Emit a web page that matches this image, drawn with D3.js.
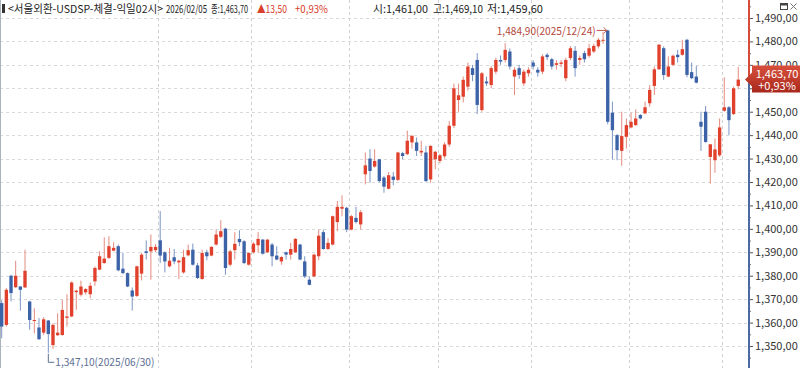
<!DOCTYPE html>
<html><head><meta charset="utf-8">
<script src="https://cdn.jsdelivr.net/npm/d3@7"></script>
<style>
html,body{margin:0;padding:0;background:#fff;}
svg{display:block;}
text{font-family:"Noto Sans CJK KR","Liberation Sans",sans-serif;}
</style></head>
<body><svg id="c" width="800" height="368"></svg>
<script>
// ---- data (daily candles, USD/KRW) ----
const opens=[1368.3,1359,1380,1375.1,1375.4,1375,1369,1360.7,1357.9,1355.7,1360.9,1350.4,1354.6,1354.7,1362,1362.6,1373,1371.9,1372.9,1372.1,1377.6,1382.6,1385.4,1387.6,1390.7,1392.6,1383,1381.1,1373.7,1371.4,1380.9,1390.4,1390.4,1390.9,1395.1,1390,1384,1387.9,1385.7,1381.4,1388.7,1391.1,1384.4,
1378.6,1390,1388.6,1393.3,1396.6,1400.1,1384.7,1390.9,1395.7,1394.7,1384.7,1390,1393,1395.4,1390,1393.3,1388.6,1386.1,1390,1389,1390,1393.3,1386.1,1378.3,1379.7,1388.3,1398.6,1391.4,1393.3,1402.9,1408.6,1409,1399.7,1404.7,1401.9,1423.3,1430,1426.6,1429.7,1421.9,1417.1,1422.3,1420.9,
1432.3,1431.9,1436.9,1436.9,1432.6,1432.6,1421.1,1429.7,1429,1431,1436,1444,1455,1456.4,1460.7,1468.6,1472.1,1450.7,1462.9,1461.4,1467.1,1472.1,1472.1,1475.7,1465,1468.6,1462.1,1466.4,1471,1467.9,1467.1,1474.3,1472.4,1470,1470.4,1464.3,1472.9,1476,1472.1,1475,1473.9,1475.7,1477.9,1480.3,
1484.7,1449.6,1440,1433.3,1439.3,1443.3,1444.3,1448.6,1449.3,1453.6,1461,1468.1,1477.1,1465,1470,1474.3,1474.3,1480.7,1466.9,1465,1445.7,1450,1430.7,1429.3,1431.4,1450.4,1451.9,1449,1461];
const highs=[1369.5,1374.7,1380.4,1386.4,1375.6,1391.1,1369.3,1366.1,1361.9,1362.3,1361.1,1359.7,1364,1369.7,1372.1,1377.6,1374,1377.9,1374.7,1377.1,1384,1390.4,1396.4,1396.9,1394.3,1393.3,1389.7,1381.4,1375,1384.3,1389.7,1395.1,1397.6,1393.5,1407.6,1390.4,1391.9,1391.4,1386.8,1391.1,1393.3,1393.7,1385.4,
1391.1,1391.1,1392.6,1399.7,1403.7,1400.4,1391.1,1398.6,1399.4,1395.1,1390,1394.3,1398.6,1395.7,1395.7,1394,1392.6,1388.3,1390.3,1394,1396.1,1393.6,1388.3,1379.7,1389.4,1399.7,1399.7,1396.1,1405.7,1411.9,1414.3,1409.4,1406,1409.4,1408,1432.6,1434,1434,1429.9,1422.6,1424.3,1424.3,1432.9,
1432.9,1441.9,1440,1439,1437.6,1435.4,1435.7,1433.3,1432,1437,1446,1462,1462,1465,1471,1470,1475,1467,1465,1469.5,1473,1474,1479.3,1477,1469,1470,1468,1469,1472,1469,1474.5,1475,1473,1472,1472,1473,1478,1478,1474,1476,1479,1479,1481.5,1484,
1484.9,1454.3,1440.5,1450,1447.1,1449.6,1451,1449,1454.3,1461.4,1469.3,1478.9,1477.9,1473.6,1474.3,1476.4,1480.7,1481.1,1471,1469.6,1450,1452.4,1436.1,1438.6,1447.1,1464.7,1452.4,1460.7,1469.1];
const lows=[1353.3,1358.3,1369,1374.7,1365.1,1374.7,1356.9,1355.4,1352.6,1354.7,1347.1,1348.7,1354.3,1354.4,1358.3,1362.3,1365.4,1371.1,1372,1370.4,1375.7,1382.3,1385.1,1387.1,1390.4,1381.9,1380.7,1375.1,1365.1,1370.9,1378,1386.9,1378.3,1390,1385.4,1381.4,1383.6,1384.9,1378.6,1380.9,1388.3,1384.3,1378.6,
1378.3,1386.6,1388.3,1392.9,1396.1,1380.4,1384,1386.9,1392.6,1385,1384.3,1389.4,1389.9,1389,1389.7,1384,1386.6,1384.7,1386.9,1386.9,1389.7,1386.6,1379,1375.9,1379.4,1386.6,1391.1,1391.1,1392.9,1399,1405.4,1398.6,1399.4,1402.3,1399.7,1419,1419.7,1426.1,1419.7,1415.4,1416.9,1418.6,1420.4,
1429.7,1431.4,1434.3,1431.1,1431.1,1420,1419.7,1425.4,1428,1430,1435,1443,1450,1454,1459,1463,1449,1450,1461,1460,1466,1470,1471,1468,1457.1,1464,1461,1465,1468,1465,1466,1472,1468,1468,1469,1463,1472,1465,1470,1471,1473,1475,1477,1479,
1444.6,1429.6,1429.3,1426.9,1434.3,1442.9,1443.9,1446.7,1448.9,1452.1,1457.1,1467.9,1463.6,1464.7,1469.6,1471,1473.9,1464.7,1463.9,1462.1,1433.3,1436.7,1419.3,1423.9,1430.7,1450,1440,1448.6,1459.6];
const closes=[1358.3,1374,1372.6,1380,1374,1382.1,1361.1,1361.1,1352.9,1361.4,1355.1,1359,1355.7,1365.4,1362.6,1377.1,1373.6,1375.4,1374.3,1375.7,1383.3,1388.3,1387.3,1392.6,1391.9,1382.3,1381.1,1375.4,1371.1,1384,1389,1389.7,1392.3,1392.3,1388.6,1386.1,1386.4,1386.1,1386.4,1387.9,1390.9,1384.7,1379,
1389.7,1388.3,1392.3,1397.6,1399,1383.3,1390.4,1393.6,1394.3,1385.4,1389.7,1393.7,1395.7,1389.4,1395.4,1388.3,1386.9,1388,1389,1391.4,1395.7,1386.9,1379.7,1376.1,1389,1397.1,1391.4,1394,1405.4,1409.4,1409.4,1399.7,1405.4,1402.9,1407.1,1427.1,1424.7,1429,1420.4,1418,1422.9,1420.9,1432.6,
1431.1,1437.6,1439.7,1433.3,1433.3,1420.4,1435.4,1432.9,1431.4,1436,1444,1460,1457,1463.6,1469.3,1465.7,1452.9,1466.4,1462.1,1468.6,1472.1,1471.4,1476.4,1469.3,1467.9,1465.7,1467.1,1467.9,1469.3,1466.7,1473.6,1473.3,1469.3,1470.7,1471,1472.1,1477.1,1468.6,1472.9,1472.4,1477.1,1478.1,1480.7,1480.7,
1445.7,1442.1,1433.6,1439.6,1444.3,1445.7,1447.1,1447.1,1451.9,1459.3,1468.1,1478.6,1465.7,1469.3,1473.9,1473.3,1476.7,1465.7,1464.3,1462.4,1443.6,1437.1,1436.1,1433.9,1443.3,1451.9,1446.4,1460,1463.7];
const days=d3.range(opens.length);           // trading-day index
const monthStarts=[34,54,75,94,114,135,155];  // first trading day of each month
const yTicks=[1350,1360,1370,1380,1390,1400,1410,1420,1430,1440,1450,1460,1470,1480,1490];
const minorTicks=[1345,1355,1365,1375,1385,1395,1405,1415,1425,1435,1445,1455,1465,1475,1485,1495];
const highIdx=130, lowIdx=10;
const highLabel="1,484,90(2025/12/24)", lowLabel="1,347,10(2025/06/30)";
const lastPrice=1463.7, lastPct="+0,93%";

// ---- drawing ----
const svg=d3.select("#c");
const W=800,H=368, axisX=749;
const x=d3.scaleBand().domain(days).range([-0.63,740.6]).padding(0);
const y=d3.scaleLinear().domain([1350,1490]).range([346,18]);
const fmt=v=>d3.format(",.2f")(v).replace(".",",");
const RED="#e0402c", BLUE="#3c62a8", REDW="#e48a7e", BLUEW="#7a95c4";
const NUMF="Liberation Sans, Arial, sans-serif";

svg.append("rect").attr("width",W).attr("height",H).attr("fill","#fff");

// horizontal grid
svg.append("g").selectAll("line").data(yTicks).join("line")
  .attr("x1",0).attr("x2",axisX).attr("y1",d=>Math.round(y(d))+0.5).attr("y2",d=>Math.round(y(d))+0.5)
  .attr("stroke","#d9d9d9").attr("stroke-dasharray","3,3");
// vertical grid at month boundaries
svg.append("g").selectAll("line").data(monthStarts).join("line")
  .attr("x1",d=>Math.round(x(d))+0.5).attr("x2",d=>Math.round(x(d))+0.5).attr("y1",0).attr("y2",H)
  .attr("stroke","#d0d0d0").attr("stroke-dasharray","3,3");

// left border
svg.append("line").attr("x1",0.5).attr("x2",0.5).attr("y1",0).attr("y2",H).attr("stroke","#aeb4bc");

// candles
const st=x.step();
const g=svg.append("g");
const cd=days.map(i=>({i,o:opens[i],h:highs[i],l:lows[i],c:closes[i]}));
g.selectAll("line.w").data(cd).join("line").attr("class","w")
  .attr("x1",d=>x(d.i)+st/2).attr("x2",d=>x(d.i)+st/2)
  .attr("y1",d=>y(d.h)).attr("y2",d=>y(d.l))
  .attr("stroke",d=>d.c>=d.o?REDW:BLUEW).attr("stroke-width",1);
g.selectAll("rect.b").data(cd).join("rect").attr("class","b")
  .attr("x",d=>x(d.i)+st*0.14).attr("width",st*0.72)
  .attr("y",d=>y(Math.max(d.o,d.c))).attr("height",d=>Math.max(1,Math.abs(y(d.o)-y(d.c))))
  .attr("fill",d=>d.c>=d.o?RED:BLUE);

// high annotation
const hx=x(highIdx)+st/2, hy=y(highs[highIdx]);
svg.append("text").attr("x",hx-111).attr("y",hy+5).attr("textLength",99).attr("lengthAdjust","spacingAndGlyphs")
  .attr("font-size",11).attr("font-family",NUMF).attr("fill","#b5473a").text(highLabel);
svg.append("path").attr("d",`M${hx-11},${hy+0.5}H${hx-1}`).attr("stroke","#c0584a").attr("fill","none");
svg.append("path").attr("d",`M${hx-4},${hy-2.5}L${hx-1},${hy+0.5}L${hx-4},${hy+3.5}`).attr("stroke","#c0584a").attr("fill","none");

// low annotation
const lx=x(lowIdx)+st/2, ly=y(lows[lowIdx]);
svg.append("path").attr("d",`M${lx},${ly+1}V${ly+9.5}H${lx+6}`).attr("stroke","#5d6f95").attr("fill","none");
svg.append("text").attr("x",lx+7).attr("y",ly+13).attr("textLength",99).attr("lengthAdjust","spacingAndGlyphs")
  .attr("font-size",11).attr("font-family",NUMF).attr("fill","#5d6f95").text(lowLabel);

// right axis (label hidden under the price tag is omitted)
const hidden=d=>Math.abs(y(d)-y(lastPrice))<10;
const yAxis=d3.axisRight(y).tickValues(yTicks).tickFormat(d=>hidden(d)?"":fmt(d)).tickSize(4).tickPadding(2);
const ax=svg.append("g").attr("transform",`translate(${axisX},0)`).call(yAxis);
ax.select(".domain").remove();
ax.selectAll(".tick line").attr("stroke","#555");
ax.selectAll(".tick text").attr("fill","#333").attr("font-size",11).attr("font-family",NUMF);
ax.selectAll(".tick").filter(d=>hidden(d)).select("text").remove();
const axMinor=d3.axisRight(y).tickValues(minorTicks).tickFormat("").tickSize(2);
const ax2=svg.append("g").attr("transform",`translate(${axisX},0)`).call(axMinor);
ax2.select(".domain").remove();
ax2.selectAll(".tick line").attr("stroke","#777");
const ysplit=y(lastPrice);
svg.append("line").attr("x1",axisX).attr("x2",axisX).attr("y1",0).attr("y2",ysplit).attr("stroke","#d64a3a").attr("stroke-width",2);
svg.append("line").attr("x1",axisX).attr("x2",axisX).attr("y1",ysplit).attr("y2",H).attr("stroke","#4a6aa5").attr("stroke-width",2);

// last price tag
const defs=svg.append("defs");
const gr=defs.append("linearGradient").attr("id","tag").attr("x1",0).attr("y1",0).attr("x2",0).attr("y2",1);
gr.append("stop").attr("offset",0).attr("stop-color","#d8503c");
gr.append("stop").attr("offset",1).attr("stop-color","#a8281c");
const ty=y(lastPrice);
svg.append("path").attr("d",`M${axisX-4},${ty}L${axisX+3},${ty-7}V${ty-14}H800V${ty+13}H${axisX+3}V${ty+7}Z`).attr("fill","url(#tag)");
svg.append("text").attr("x",777).attr("y",ty-2).attr("text-anchor","middle").attr("font-size",11).attr("fill","#fff")
  .attr("font-family",NUMF).text(fmt(lastPrice));
svg.append("text").attr("x",777).attr("y",ty+10).attr("text-anchor","middle").attr("font-size",11).attr("fill","#fff")
  .attr("font-family",NUMF).text(lastPct);

// header
svg.append("rect").attr("x",2).attr("y",4).attr("width",3).attr("height",9).attr("fill","#333");
const hdr=[
 {t:"<서울외환-USDSP-체결-익일02시>",x:8,w:155,c:"#222"},
 {t:"2026/02/05",x:166,w:41,c:"#222"},
 {t:"종:1,463,70",x:211,w:37,c:"#222"},
 {t:"▲13,50",x:257,w:30,c:"#d8402c"},
 {t:"+0,93%",x:295,w:33,c:"#d8402c"},
 {t:"시:1,461,00",x:373,w:55,c:"#222"},
 {t:"고:1,469,10",x:433,w:50,c:"#222"},
 {t:"저:1,459,60",x:487,w:56,c:"#222"}];
svg.append("g").selectAll("text").data(hdr).join("text")
  .attr("x",d=>d.x).attr("y",13).attr("font-size",11).attr("fill",d=>d.c)
  .attr("font-family","Liberation Sans Narrow, Noto Sans CJK KR, sans-serif")
  .attr("textLength",d=>d.w).attr("lengthAdjust","spacingAndGlyphs").text(d=>d.t);

// window icons
svg.append("rect").attr("x",780.5).attr("y",3.5).attr("width",7).attr("height",6).attr("fill","none").attr("stroke","#444");
svg.append("line").attr("x1",780.5).attr("x2",787.5).attr("y1",4.5).attr("y2",4.5).attr("stroke","#444").attr("stroke-width",2);
svg.append("path").attr("d","M790.5,3.5L796.5,9.5M796.5,3.5L790.5,9.5").attr("stroke","#777");
</script></body></html>
